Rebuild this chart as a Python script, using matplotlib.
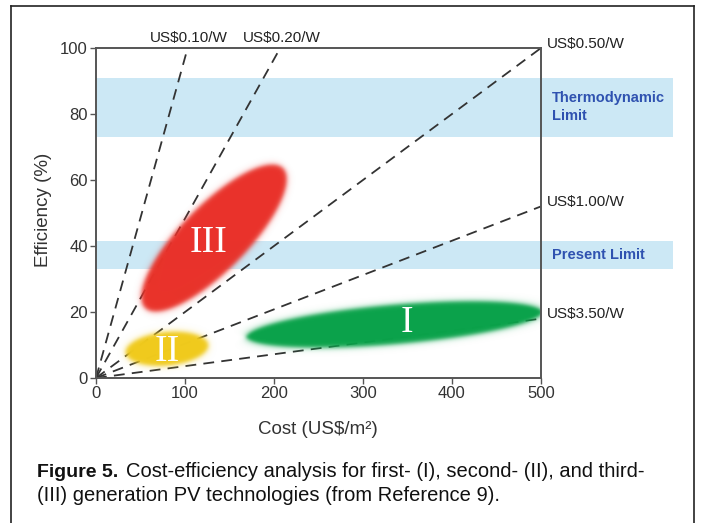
import numpy as np
import matplotlib
matplotlib.use("Agg")
import matplotlib.pyplot as plt
from matplotlib.patches import Rectangle
from matplotlib.lines import Line2D

plt.rcParams['font.family'] = ['Liberation Sans', 'DejaVu Sans']

# price lines (US$/W) drawn from the origin, end points
price_labels = [r'US\$0.10/W', r'US\$0.20/W', r'US\$0.50/W', r'US\$1.00/W', r'US\$3.50/W']
line_end_cost = [103, 207, 500, 500, 500]
line_end_eff = [100, 100, 100, 52, 18]

# limit bands (efficiency %)
band_names = ['Thermodynamic\nLimit', 'Present Limit']
band_low = [73, 33]
band_high = [91, 41.5]

# technology generations: ellipse tips (cost, efficiency)
gen_labels = ['I', 'II', 'III']
gen_tip1_cost = [169, 33, 55]
gen_tip1_eff = [12.4, 7.6, 21.2]
gen_tip2_cost = [502, 126, 210]
gen_tip2_eff = [20.0, 10.0, 63.6]
gen_label_cost = [349, 80, 126]
gen_label_eff = [16.7, 7.9, 40.9]
gen_halfwidth_px = [20, 17, 33]
gen_colors = ['#0aa34b', '#f1cb1c', '#e9322a']

x_ticks = [0, 100, 200, 300, 400, 500]
y_ticks = [0, 20, 40, 60, 80, 100]

W, H = 701, 523
fig = plt.figure(figsize=(W / 100, H / 100), dpi=100)
ax = fig.add_axes([96 / W, 1 - 378 / H, 445 / W, 330 / H])
ax.set_xlim(0, 500)
ax.set_ylim(0, 100)

# outer frame
for xs, ys in [([11, 11], [523, 6]), ([11, 694], [6, 6]), ([694, 694], [6, 523])]:
    fig.add_artist(Line2D([x / W for x in xs], [1 - y / H for y in ys], color='#222', lw=1.2))

# blue bands, running past the right axis
for name, lo, hi in zip(band_names, band_low, band_high):
    ax.add_patch(Rectangle((0, lo), 648, hi - lo, facecolor='#cce8f5', edgecolor='none',
                           clip_on=False, zorder=0))
    ax.annotate(name, xy=(500, (lo + hi) / 2), xytext=(8, 0), textcoords='offset points',
                ha='left', va='center', color='#2f52b0', fontsize=10.5, fontweight='bold',
                linespacing=1.35, annotation_clip=False)

# dashed price lines
for lab, c, e in zip(price_labels, line_end_cost, line_end_eff):
    ax.plot([0, c], [0, e], color='#333', lw=1.3, dashes=(6, 4), zorder=2, clip_on=False)
    if e >= 100 and c < 500:
        ax.annotate(lab, xy=(c, e), xytext=(1, 2.5), textcoords='offset points', ha='center',
                    va='bottom', fontsize=11, color='#222', annotation_clip=False)
    else:
        ax.annotate(lab, xy=(c, e), xytext=(4, 3), textcoords='offset points', ha='left',
                    va='center', fontsize=11, color='#222', annotation_clip=False)

# soft-edged ellipses rendered as an image in data coordinates
px_x = 445 / 500.0
px_y = 330 / 100.0
nx, ny = 890, 660
gx = np.linspace(0, 500, nx)
gy = np.linspace(0, 100, ny)
GX, GY = np.meshgrid(gx, gy)
PX, PY = GX * px_x, GY * px_y
prem = np.zeros((ny, nx, 3))
alpha = np.zeros((ny, nx))
for i in [1, 0, 2]:
    x1, y1 = gen_tip1_cost[i] * px_x, gen_tip1_eff[i] * px_y
    x2, y2 = gen_tip2_cost[i] * px_x, gen_tip2_eff[i] * px_y
    cx, cy = (x1 + x2) / 2, (y1 + y2) / 2
    a = np.hypot(x2 - x1, y2 - y1) / 2
    b = gen_halfwidth_px[i]
    th = np.arctan2(y2 - y1, x2 - x1)
    u = (PX - cx) * np.cos(th) + (PY - cy) * np.sin(th)
    v = -(PX - cx) * np.sin(th) + (PY - cy) * np.cos(th)
    f = (u / a) ** 2 + (v / b) ** 2 - 1
    grad = 2 * np.sqrt((u / a ** 2) ** 2 + (v / b ** 2) ** 2) + 1e-9
    d = np.clip(f / grad, -50, 50)
    al = 1 / (1 + np.exp(d / 1.4))
    rgb = np.array(matplotlib.colors.to_rgb(gen_colors[i]))
    prem = rgb[None, None, :] * al[..., None] + prem * (1 - al[..., None])
    alpha = al + alpha * (1 - al)
img = np.zeros((ny, nx, 4))
safe = np.where(alpha > 1e-6, alpha, 1)
img[..., :3] = np.clip(prem / safe[..., None], 0, 1)
img[..., 3] = alpha
ax.imshow(img, extent=(0, 500, 0, 100), origin='lower', aspect='auto',
          interpolation='bilinear', zorder=3)
ax.set_xlim(0, 500)
ax.set_ylim(0, 100)

for lab, c, e in zip(gen_labels, gen_label_cost, gen_label_eff):
    ax.text(c, e, lab, ha='center', va='center', color='white', fontsize=27,
            family='Liberation Serif', zorder=4)

# axes styling
for s in ax.spines.values():
    s.set_color('#555')
    s.set_linewidth(1.4)
    s.set_zorder(5)
ax.set_xticks(x_ticks)
ax.set_yticks(y_ticks)
ax.tick_params(direction='out', length=4, width=1, color='#555', labelsize=12,
               labelcolor='#333', pad=2)

fig.text(44 / W, 1 - 210 / H, 'Efficiency (%)', rotation=90, ha='center', va='center',
         fontsize=13.5, color='#333')
fig.text(318 / W, 1 - 430 / H, r'Cost (US\$/m²)', ha='center', va='center',
         fontsize=13.5, color='#333')

# caption
fig.canvas.draw()
r = fig.canvas.get_renderer()
t1 = fig.text(37 / W, 1 - 477 / H, 'Figure 5.', fontweight='bold', fontsize=14,
              ha='left', va='baseline', color='#111')
bb = t1.get_window_extent(renderer=r)
fig.text((bb.x1 + 8) / W, 1 - 477 / H,
         'Cost-efficiency analysis for first- (I), second- (II), and third-',
         fontsize=14.5, ha='left', va='baseline', color='#111')
fig.text(37 / W, 1 - 501 / H, '(III) generation PV technologies (from Reference 9).',
         fontsize=14.5, ha='left', va='baseline', color='#111')

fig.savefig('out.png', dpi=100)
